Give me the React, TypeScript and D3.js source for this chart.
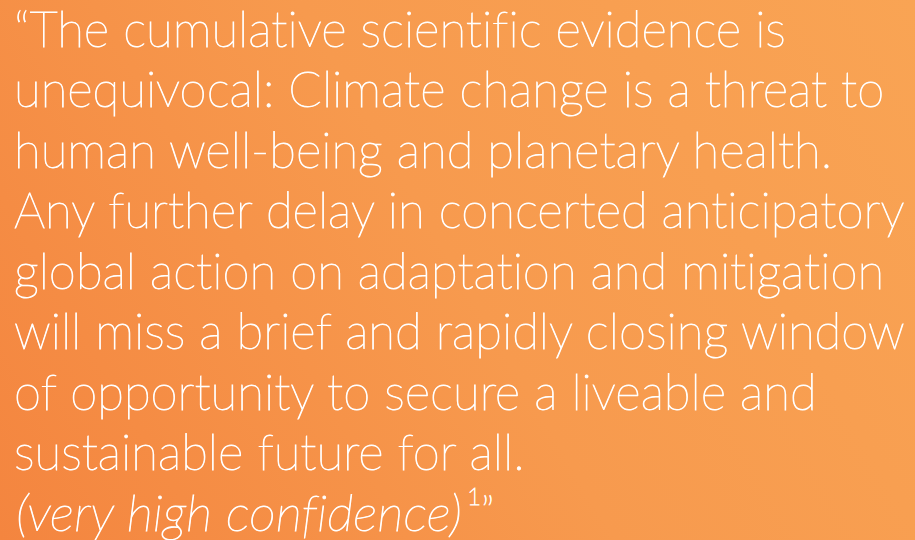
import React, { useRef, useEffect } from "react";
import * as d3 from "d3";

const W = 915;
const H = 540;

// quote text, one entry per line
const quoteLines = [
  "\u201CThe cumulative scientific evidence is",
  "unequivocal: Climate change is a threat to",
  "human well-being and planetary health.",
  "Any further delay in concerted anticipatory",
  "global action on adaptation and mitigation",
  "will miss a brief and rapidly closing window",
  "of opportunity to secure a liveable and",
  "sustainable future for all.",
];
const confidenceLabel = "(very high confidence)";
const footnoteMark = "1";
const closingQuote = "\u201D";

const bgStops = [
  { offset: 0, color: "#f4853f" },
  { offset: 0.5, color: "#f79a4e" },
  { offset: 1, color: "#f9a454" },
];

export default function App() {
  const svgRef = useRef<SVGSVGElement | null>(null);

  useEffect(() => {
    document.body.style.margin = "0";
    const svg = d3.select(svgRef.current);
    svg.selectAll("*").remove();

    const defs = svg.append("defs");
    const grad = defs
      .append("linearGradient")
      .attr("id", "bg")
      .attr("gradientUnits", "userSpaceOnUse")
      .attr("x1", 0)
      .attr("y1", H)
      .attr("x2", W)
      .attr("y2", 0);
    grad
      .selectAll("stop")
      .data(bgStops)
      .join("stop")
      .attr("offset", (d) => d.offset)
      .attr("stop-color", (d) => d.color);

    svg.append("rect").attr("width", W).attr("height", H).attr("fill", "url(#bg)");

    const total = quoteLines.length + 1;
    const y = d3.scaleLinear().domain([0, total - 1]).range([46.5, 531]);
    const left = 14;

    // hairline weight thickened a bit with a white stroke
    const g = svg
      .append("g")
      .attr("fill", "#ffffff")
      .attr("stroke", "#ffffff")
      .attr("stroke-width", 0.9)
      .style("font-family", "Lato, 'Open Sans', sans-serif")
      .style("font-weight", 100)
      .style("font-variant-ligatures", "none")
      .style("font-feature-settings", "'liga' 0, 'clig' 0");

    let fontSize = 46;
    const texts = g
      .selectAll("text.line")
      .data(quoteLines)
      .join("text")
      .attr("class", "line")
      .attr("x", left)
      .attr("y", (_, i) => y(i))
      .style("font-size", fontSize + "px")
      .text((d) => d);

    // fit the longest line to the reference width
    const widths = texts.nodes().map((n) => (n as SVGTextElement).getComputedTextLength());
    const maxW = d3.max(widths) || 1;
    fontSize = (fontSize * 891) / maxW;
    texts.style("font-size", fontSize + "px");

    const lastY = y(total - 1);
    g.append("text")
      .attr("x", left + 2)
      .attr("y", lastY)
      .style("font-size", fontSize + "px")
      .style("font-style", "italic")
      .attr("textLength", 446)
      .attr("lengthAdjust", "spacingAndGlyphs")
      .text(confidenceLabel);
    const endX = left + 2 + 446;

    g.append("text")
      .attr("x", endX + 5)
      .attr("y", lastY - fontSize * 0.53)
      .style("font-size", fontSize * 0.5 + "px")
      .text(footnoteMark);

    g.append("text")
      .attr("x", endX + 19)
      .attr("y", lastY - fontSize * 0.08)
      .style("font-size", fontSize * 0.85 + "px")
      .text(closingQuote);
  }, []);

  return <svg ref={svgRef} width={W} height={H} style={{ display: "block" }}></svg>;
}
